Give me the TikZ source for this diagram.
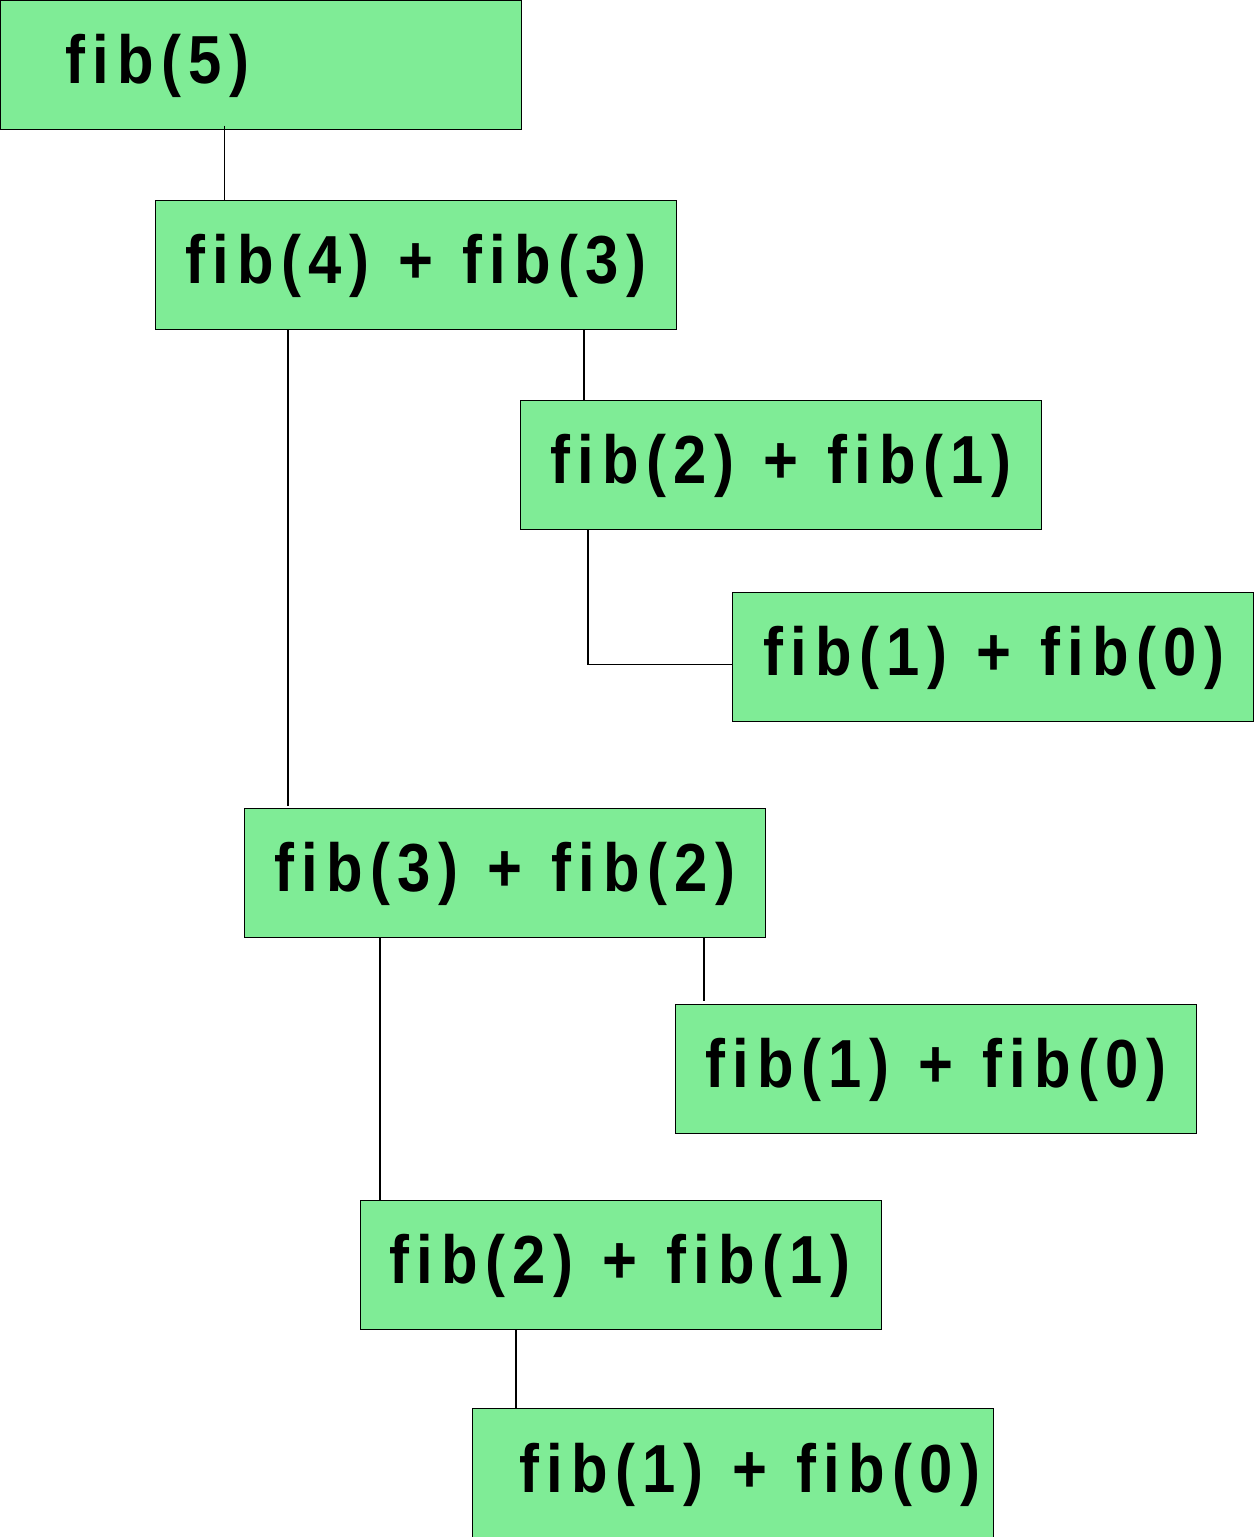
\documentclass[tikz,border=0pt]{standalone}
\usepackage{fontspec}
\setmainfont{Liberation Sans}[LetterSpace=11.3,FakeStretch=0.88,WordSpace=1.18]
\definecolor{boxgreen}{RGB}{127,236,150}
\begin{document}
\begin{tikzpicture}[x=1pt,y=-1pt,
  fbox/.style={draw=black,line width=1pt,fill=boxgreen,minimum width=521pt,minimum height=129pt,anchor=north west,inner sep=0pt,outer sep=0pt},
  ftext/.style={anchor=base west,inner sep=0pt,font=\fontsize{68}{80}\selectfont\bfseries},
  conn/.style={line width=1.2pt}]
\useasboundingbox (0,0) rectangle (1254,1537);
\node[fbox] (b1) at (0.5,0.5) {};
\node[fbox] (b2) at (155.5,200.5) {};
\node[fbox] (b3) at (520.5,400.5) {};
\node[fbox] (b4) at (732.5,592.5) {};
\node[fbox] (b5) at (244.5,808.5) {};
\node[fbox] (b6) at (675.5,1004.5) {};
\node[fbox] (b7) at (360.5,1200.5) {};
\node[fbox] (b8) at (472.5,1408.5) {};
\node[ftext] (t1) at (65,83) {fib(5)};
\node[ftext] (t2) at (185,283) {fib(4) + fib(3)};
\node[ftext] (t3) at (550,483) {fib(2) + fib(1)};
\node[ftext] (t4) at (763,675) {fib(1) + fib(0)};
\node[ftext] (t5) at (274,891) {fib(3) + fib(2)};
\node[ftext] (t6) at (705,1087) {fib(1) + fib(0)};
\node[ftext] (t7) at (389,1283) {fib(2) + fib(1)};
\node[ftext] (t8) at (519,1492) {fib(1) + fib(0)};
\coordinate (c1) at ([xshift=224pt,yshift=4pt]b1.south west);
\draw[conn] (c1) -- (c1 |- b2.north);
\draw[conn] ([xshift=132.5pt]b2.south west) -- ([xshift=132.5pt,yshift=3pt]b2.south west |- b5.north);
\draw[conn] ([xshift=428.5pt]b2.south west) -- ([xshift=428.5pt]b2.south west |- b3.north);
\draw[conn] ([xshift=67.5pt]b3.south west) |- ([yshift=-7.5pt]b4.west);
\draw[conn] ([xshift=459.5pt]b5.south west) -- ([xshift=459.5pt,yshift=4pt]b5.south west |- b6.north);
\draw[conn] ([xshift=135.5pt]b5.south west) -- ([xshift=135.5pt]b5.south west |- b7.north);
\draw[conn] ([xshift=155.5pt]b7.south west) -- ([xshift=155.5pt]b7.south west |- b8.north);
\end{tikzpicture}
\end{document}
